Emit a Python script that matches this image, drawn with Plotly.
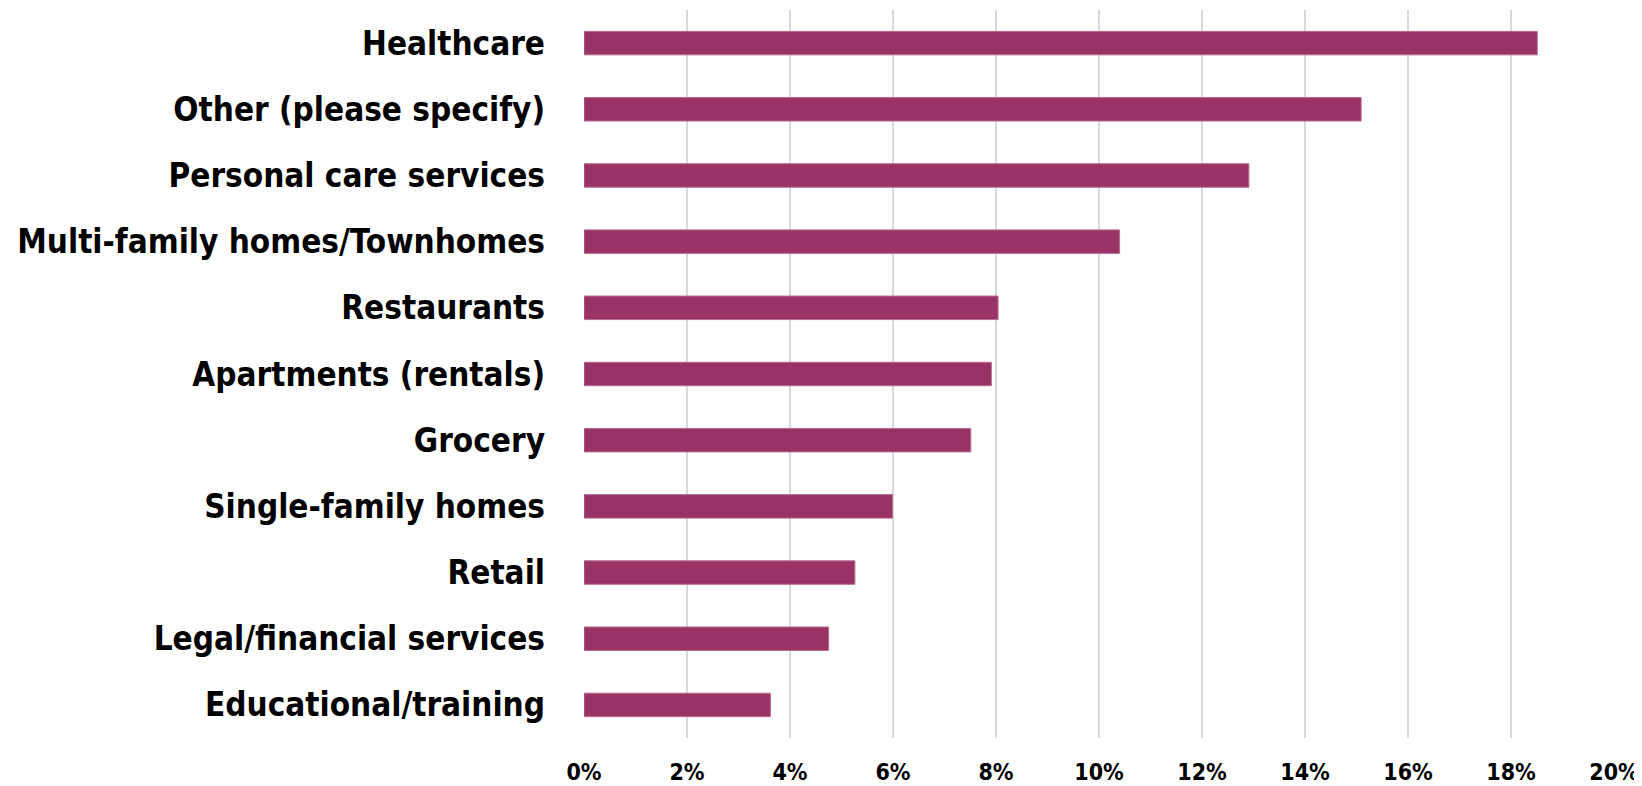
import plotly.graph_objects as go

categories = [
    "Healthcare",
    "Other (please specify)",
    "Personal care services",
    "Multi-family homes/Townhomes",
    "Restaurants",
    "Apartments (rentals)",
    "Grocery",
    "Single-family homes",
    "Retail",
    "Legal/financial services",
    "Educational/training",
]
values = [0.1851, 0.1509, 0.1291, 0.1040, 0.0804, 0.0791, 0.0751, 0.0599, 0.0526, 0.0475, 0.0362]

tick_vals = [0, 0.02, 0.04, 0.06, 0.08, 0.10, 0.12, 0.14, 0.16, 0.18, 0.20]
tick_text = ["0%", "2%", "4%", "6%", "8%", "10%", "12%", "14%", "16%", "18%", "20%"]

FONT = "Liberation Sans Narrow, Arial Narrow, DejaVu Sans Condensed, sans-serif"

fig = go.Figure(
    go.Bar(
        x=values,
        y=categories,
        orientation="h",
        marker=dict(color="#993366", line=dict(color="#b86b90", width=1)),
    )
)

# The page body adds an 8px offset, so the figure is sized to fill the rest.
fig.update_layout(
    width=1634,
    height=778,
    margin=dict(l=576, r=28, t=2, b=48),
    paper_bgcolor="white",
    plot_bgcolor="white",
    bargap=0.645,
    showlegend=False,
    font=dict(family=FONT, color="black"),
)

fig.update_xaxes(
    range=[0, 0.2],
    tickvals=tick_vals,
    ticktext=tick_text,
    showgrid=True,
    gridcolor="#d9d9d9",
    gridwidth=2,
    zeroline=False,
    showline=False,
    automargin=False,
    tickfont=dict(family=FONT, size=23, color="black", weight="bold"),
    ticklabelstandoff=18,
)

fig.update_yaxes(
    categoryorder="array",
    categoryarray=categories[::-1],
    autorange=False,
    range=[-0.5, len(categories) - 0.5],
    showgrid=False,
    zeroline=False,
    showline=False,
    automargin=False,
    tickfont=dict(family=FONT, size=33, color="black", weight="bold"),
    ticklabelstandoff=38,
)

fig.write_html("out.html")
